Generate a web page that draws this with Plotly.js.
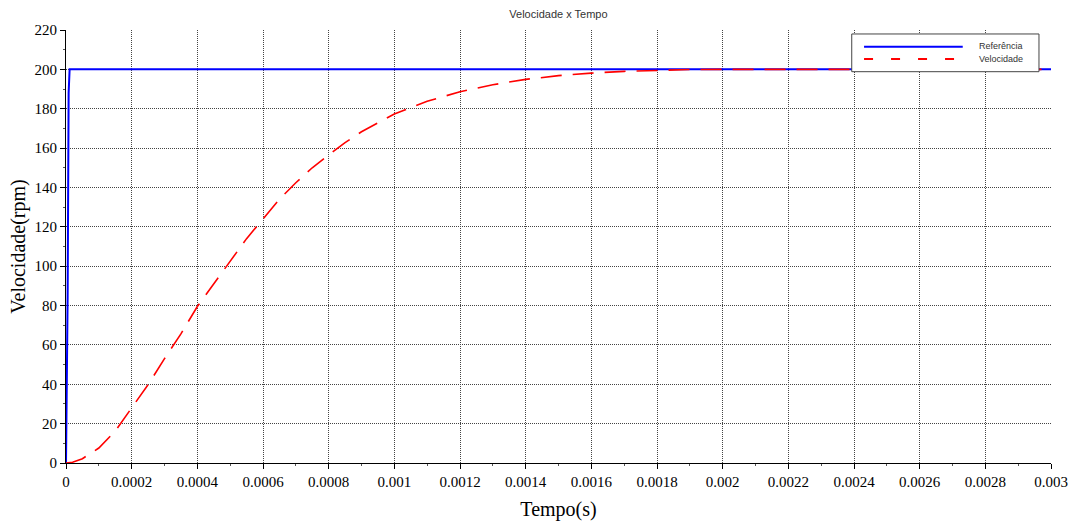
<!DOCTYPE html>
<html>
<head>
<meta charset="utf-8">
<script src="https://cdn.plot.ly/plotly-3.0.1.min.js"></script>
<style>html,body{margin:0;padding:0;background:#fff;}#chart{width:1075px;height:522px;}</style>
</head>
<body>
<div id="chart"></div>
<script>
// Reference signal (rpm)
const refTime = [0, 0.000002, 0.000005, 0.000008, 0.000011, 0.003];
const refValue = [0, 32, 85, 188, 200, 200];

// Measured speed (rpm)
const velTime = [0, 0.00002, 0.00005, 0.0001, 0.00015, 0.0002, 0.00025, 0.0003, 0.00035, 0.0004, 0.00045, 0.0005, 0.00055, 0.0006, 0.00065, 0.0007, 0.00075, 0.0008, 0.00085, 0.0009, 0.00095, 0.001, 0.0011, 0.0012, 0.0013, 0.0014, 0.0015, 0.0016, 0.0017, 0.0018, 0.0019, 0.002, 0.0025, 0.003];
const velValue = [0, 0.4, 2.2, 7.6, 16.2, 27.8, 39.8, 53, 65.6, 79.5, 91, 103, 114, 124, 134, 142.4, 150, 156.5, 162.8, 168.3, 173, 177.3, 183.8, 188.6, 192.2, 194.9, 196.8, 198.1, 199, 199.6, 199.9, 200, 200, 200];

const seriesNames = ['Referência', 'Velocidade'];
const seriesColors = ['#0000ff', '#ff0000'];
const xTicks = {start: 0, end: 0.003, step: 0.0002};
const yTicks = {start: 0, end: 220, step: 20};

const traces = [
  {x: refTime, y: refValue, name: seriesNames[0], type: 'scatter', mode: 'lines',
   line: {color: seriesColors[0], width: 2}},
  {x: velTime, y: velValue, name: seriesNames[1], type: 'scatter', mode: 'lines',
   line: {color: seriesColors[1], width: 1.6, dash: '21px,11px'}}
];

const serif = 'Liberation Serif, Times New Roman, serif';
const sans = 'Liberation Sans, Arial, sans-serif';

// Legend box drawn in paper coordinates (styled like the original)
const legendShapes = [
  {type: 'rect', xref: 'paper', yref: 'paper', x0: 0.7977, x1: 0.9878, y0: 0.9037, y1: 0.9908,
   fillcolor: '#ffffff', line: {color: '#444444', width: 1}, layer: 'above'},
  {type: 'line', xref: 'paper', yref: 'paper', x0: 0.8102, x1: 0.9104, y0: 0.9614, y1: 0.9614,
   line: {color: seriesColors[0], width: 2}, layer: 'above'},
  {type: 'line', xref: 'paper', yref: 'paper', x0: 0.8102, x1: 0.9104, y0: 0.9330, y1: 0.9330,
   line: {color: seriesColors[1], width: 2, dash: '9px,18px'}, layer: 'above'}
];
const legendTexts = [
  {xref: 'paper', yref: 'paper', x: 0.9246, y: 0.9637, xanchor: 'left', yanchor: 'middle', showarrow: false,
   text: seriesNames[0], font: {family: sans, size: 9, color: '#333333'}},
  {xref: 'paper', yref: 'paper', x: 0.9246, y: 0.9330, xanchor: 'left', yanchor: 'middle', showarrow: false,
   text: seriesNames[1], font: {family: sans, size: 9, color: '#333333'}}
];

const layout = {
  width: 1075, height: 522,
  margin: {l: 66, r: 24, t: 30, b: 59, pad: 0},
  paper_bgcolor: '#ffffff', plot_bgcolor: '#ffffff',
  title: {text: 'Velocidade x Tempo', x: 0.5195, xanchor: 'center', y: 0.973, yanchor: 'middle',
          font: {family: sans, size: 11, color: '#333333'}},
  showlegend: false,
  shapes: legendShapes,
  annotations: legendTexts,
  xaxis: {
    range: [xTicks.start, xTicks.end], tickmode: 'linear', tick0: xTicks.start, dtick: xTicks.step,
    tickformat: '~g', showline: true, linecolor: '#000', linewidth: 1, mirror: false,
    ticks: 'outside', ticklen: 5, tickcolor: '#000', tickwidth: 1,
    minor: {dtick: xTicks.step / 2, ticks: 'outside', ticklen: 2, tickcolor: '#555', showgrid: false},
    showgrid: true, gridcolor: '#444444', griddash: '1px,1px', gridwidth: 1, zeroline: false,
    tickfont: {family: serif, size: 15, color: '#000'},
    title: {text: 'Tempo(s)', font: {family: serif, size: 20, color: '#000'}, standoff: 12},
    automargin: false
  },
  yaxis: {
    range: [yTicks.start, yTicks.end], tickmode: 'linear', tick0: yTicks.start, dtick: yTicks.step,
    showline: true, linecolor: '#000', linewidth: 1, mirror: false,
    ticks: 'outside', ticklen: 5, tickcolor: '#000', tickwidth: 1,
    minor: {dtick: yTicks.step / 2, ticks: 'outside', ticklen: 2, tickcolor: '#555', showgrid: false},
    showgrid: true, gridcolor: '#444444', griddash: '1px,1px', gridwidth: 1, zeroline: false,
    tickfont: {family: serif, size: 15, color: '#000'},
    title: {text: 'Velocidade(rpm)', font: {family: serif, size: 20, color: '#000'}, standoff: 3},
    automargin: false
  }
};

Plotly.newPlot('chart', traces, layout, {staticPlot: true, displayModeBar: false});
</script>
</body>
</html>
